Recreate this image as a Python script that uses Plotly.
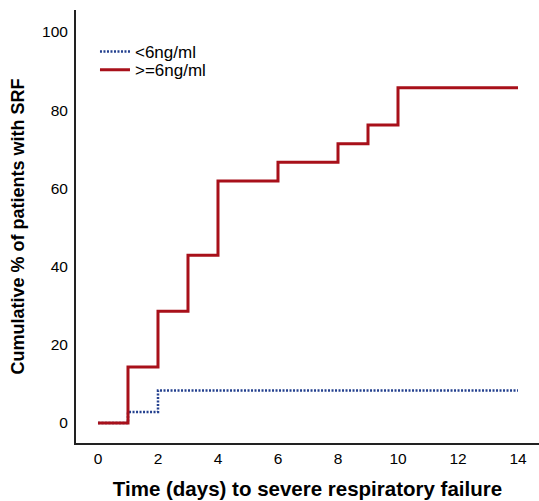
import plotly.graph_objects as go

# Data
time_lt6 = [0, 1, 2, 14]
pct_lt6 = [0, 2.8, 8.3, 8.3]
time_ge6 = [0, 1, 2, 3, 4, 6, 8, 9, 10, 14]
pct_ge6 = [0, 14.3, 28.6, 42.9, 61.9, 66.7, 71.4, 76.2, 85.7, 85.7]
labels = ["<6ng/ml", ">=6ng/ml"]
x_ticks = [0, 2, 4, 6, 8, 10, 12, 14]
y_ticks = [0, 20, 40, 60, 80, 100]

FONT = "Liberation Sans, Arial, sans-serif"

fig = go.Figure()
fig.add_trace(go.Scatter(
    x=time_lt6, y=pct_lt6, mode="lines", name=labels[0], legend="legend",
    line=dict(shape="hv", color="#24418F", width=2.5, dash="2px,1.5px"),
))
fig.add_trace(go.Scatter(
    x=time_ge6, y=pct_ge6, mode="lines", name=labels[1], legend="legend2",
    line=dict(shape="hv", color="#A8101A", width=3),
))

legend_style = dict(
    xanchor="left", yanchor="middle",
    bgcolor="rgba(0,0,0,0)", borderwidth=0,
    font=dict(family=FONT, size=17, color="black"),
    itemwidth=30,
)

fig.update_layout(
    width=539, height=501,
    margin=dict(l=76, r=0, t=10, b=58, autoexpand=False),
    paper_bgcolor="white", plot_bgcolor="white",
    font=dict(family=FONT, color="black", size=15.5),
    showlegend=True,
    legend=dict(x=0.041, y=0.903, **legend_style),
    legend2=dict(x=0.041, y=0.861, **legend_style),
    xaxis=dict(
        range=[-0.733, 14.7], tickvals=x_ticks, ticktext=[str(v) for v in x_ticks],
        showgrid=False, zeroline=False, showline=True, linecolor="#222", linewidth=2,
        ticks="", ticklabelstandoff=0, automargin=False,
        tickfont=dict(family=FONT, size=15.5, color="black"),
        title=dict(text="<b>Time (days) to severe respiratory failure</b>",
                   font=dict(family=FONT, size=20.5, color="black"), standoff=16),
    ),
    yaxis=dict(
        range=[-5.12, 105.6], tickvals=y_ticks, ticktext=[str(v) for v in y_ticks],
        showgrid=False, zeroline=False, showline=True, linecolor="#222", linewidth=2,
        ticks="", ticklabelstandoff=3, automargin=False,
        tickfont=dict(family=FONT, size=15.5, color="black"),
        title=dict(text="<b>Cumulative % of patients with SRF</b>",
                   font=dict(family=FONT, size=18, color="black"), standoff=13),
    ),
)

fig.write_html("out.html", post_script="document.body.style.margin='0';",
               config={"displayModeBar": False})
